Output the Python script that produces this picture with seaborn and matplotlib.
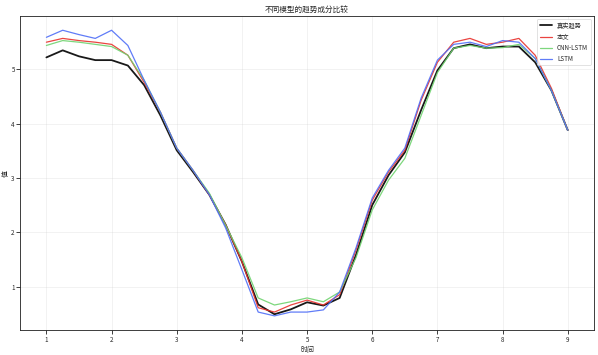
import numpy as np
import pandas as pd
import matplotlib
matplotlib.use("Agg")
import matplotlib.pyplot as plt
import seaborn as sns

# time axis (0.25 steps from 1 to 9)
t = [1 + 0.25 * k for k in range(33)]

true_trend = [5.22, 5.35, 5.24, 5.17, 5.17, 5.07, 4.71, 4.15, 3.51, 3.11, 2.69,
              2.14, 1.46, 0.67, 0.49, 0.58, 0.71, 0.65, 0.79, 1.58, 2.50, 3.05,
              3.47, 4.25, 4.98, 5.39, 5.46, 5.39, 5.42, 5.42, 5.13, 4.61, 3.88]
model_a = [5.50, 5.57, 5.53, 5.50, 5.46, 5.26, 4.76, 4.21, 3.55, 3.14, 2.69,
           2.14, 1.46, 0.61, 0.53, 0.66, 0.75, 0.66, 0.85, 1.67, 2.59, 3.11,
           3.51, 4.43, 5.13, 5.50, 5.57, 5.46, 5.50, 5.57, 5.26, 4.65, 3.88]
model_b = [5.44, 5.53, 5.50, 5.46, 5.42, 5.26, 4.80, 4.21, 3.55, 3.14, 2.72,
           2.13, 1.53, 0.79, 0.66, 0.72, 0.79, 0.72, 0.90, 1.53, 2.41, 2.96,
           3.36, 4.15, 4.94, 5.39, 5.44, 5.39, 5.40, 5.46, 5.20, 4.61, 3.88]
model_c = [5.59, 5.72, 5.64, 5.57, 5.72, 5.44, 4.80, 4.21, 3.55, 3.14, 2.69,
           2.08, 1.31, 0.53, 0.46, 0.53, 0.53, 0.57, 0.90, 1.71, 2.63, 3.14,
           3.55, 4.47, 5.17, 5.46, 5.50, 5.42, 5.53, 5.50, 5.20, 4.61, 3.88]

labels = ["真实趋势", "本文", "CNN-LSTM", "LSTM"]
colors = ["black", "#e8302c", "#6fd36f", "#4f6ef7"]
widths = [2.6, 1.8, 1.8, 1.8]
x_ticks = [1, 2, 3, 4, 5, 6, 7, 8, 9]
y_ticks = [1, 2, 3, 4, 5]

sns.set_theme(style="ticks")
plt.rcParams["font.family"] = ["Noto Sans CJK SC", "DejaVu Sans"]
plt.rcParams["axes.unicode_minus"] = False

fig = plt.figure(figsize=(11.96, 7.1), dpi=50)
ax = fig.add_axes([0.034, 0.07, 0.959, 0.885])

series = [true_trend, model_a, model_b, model_c]
for vals, lab, col, lw in zip(series, labels, colors, widths):
    df = pd.DataFrame({"时间": t, "值": vals})
    sns.lineplot(data=df, x="时间", y="值", ax=ax, color=col, linewidth=lw,
                 label=lab, alpha=0.9)

ax.set_xticks(x_ticks)
ax.set_yticks(y_ticks)
ax.grid(True, alpha=0.35)
ax.set_title("不同模型的趋势成分比较", fontsize=11)
ax.set_xlabel("时间", fontsize=10)
ax.set_ylabel("值", fontsize=10)
ax.yaxis.set_label_coords(-0.019, 0.5)
ax.tick_params(labelsize=9, pad=2)
ax.legend(loc="upper right", fontsize=9, frameon=True)

fig.savefig("out.png", dpi=50)
